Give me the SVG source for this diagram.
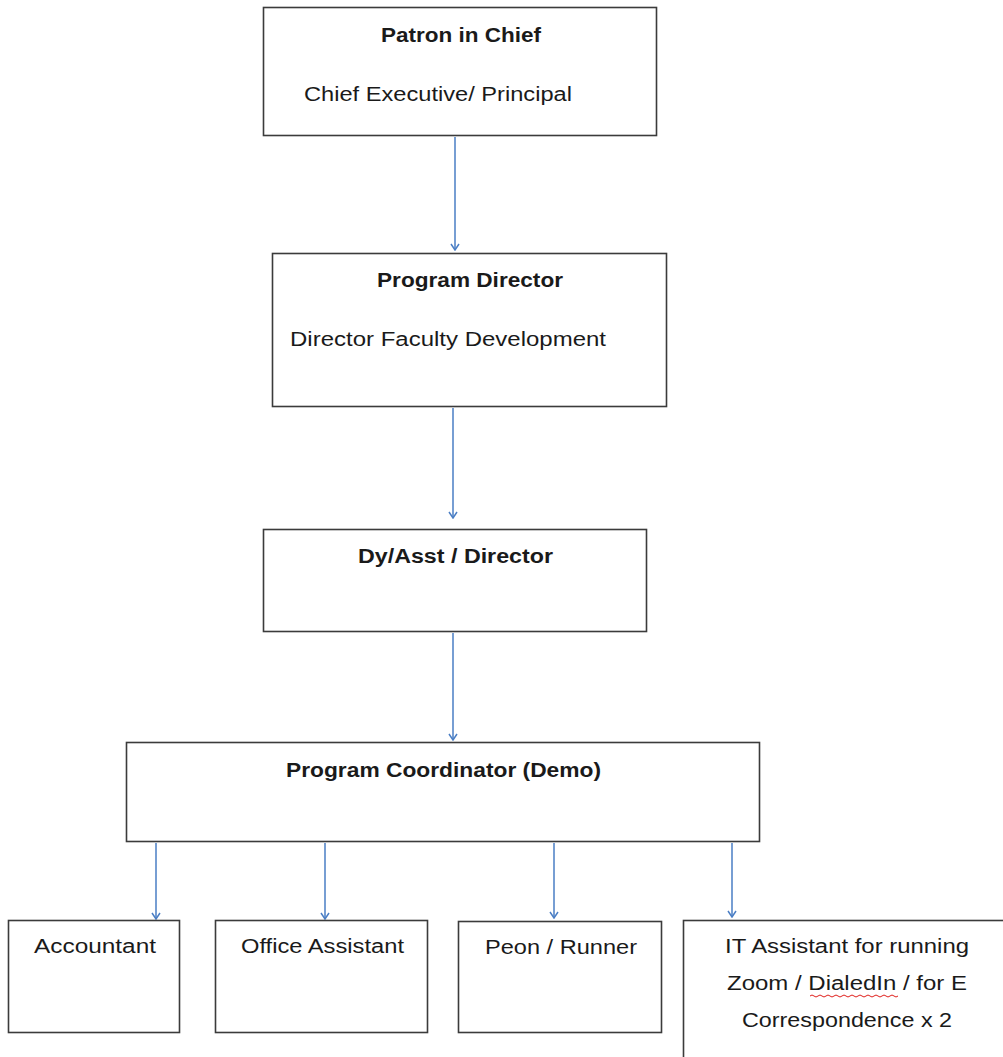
<svg xmlns="http://www.w3.org/2000/svg" width="1003" height="1057" viewBox="0 0 1003 1057">
<style>
.box{fill:#fff;stroke:#3b3b3b;stroke-width:1.6}
.t{font-family:"Liberation Sans",Arial,sans-serif;font-size:20px;fill:#1a1a1a}
.b{font-weight:bold}
.c{stroke:#4a7ec4;stroke-width:1.5;fill:none}
</style>
<defs>
<marker id="ah" viewBox="0 0 10 10" refX="9" refY="5" markerWidth="10" markerHeight="10" markerUnits="userSpaceOnUse" orient="auto">
<path d="M3,1 L9,5 L3,9" fill="none" stroke="#4a7ec4" stroke-width="1.5"/>
</marker>
</defs>
<rect width="1003" height="1057" fill="#fff"/>
<g id="connectors">
<line class="c" x1="455" y1="137" x2="455" y2="250" marker-end="url(#ah)"/>
<line class="c" x1="453" y1="408" x2="453" y2="518" marker-end="url(#ah)"/>
<line class="c" x1="453" y1="633" x2="453" y2="740" marker-end="url(#ah)"/>
<line class="c" x1="156" y1="843" x2="156" y2="919" marker-end="url(#ah)"/>
<line class="c" x1="325" y1="843" x2="325" y2="919" marker-end="url(#ah)"/>
<line class="c" x1="554" y1="843" x2="554" y2="918" marker-end="url(#ah)"/>
<line class="c" x1="732" y1="843" x2="732" y2="917" marker-end="url(#ah)"/>
</g>
<g id="patron">
<rect class="box" x="263.5" y="7.5" width="393" height="128"/>
<text class="t b" x="381" y="42" textLength="160" lengthAdjust="spacingAndGlyphs">Patron in Chief</text>
<text class="t" x="304" y="101" textLength="268" lengthAdjust="spacingAndGlyphs">Chief Executive/ Principal</text>
</g>
<g id="program-director">
<rect class="box" x="272.5" y="253.5" width="394" height="153"/>
<text class="t b" x="377" y="287" textLength="186" lengthAdjust="spacingAndGlyphs">Program Director</text>
<text class="t" x="290" y="346" textLength="316" lengthAdjust="spacingAndGlyphs">Director Faculty Development</text>
</g>
<g id="dy-asst-director">
<rect class="box" x="263.5" y="529.5" width="383" height="102"/>
<text class="t b" x="358" y="563" textLength="195" lengthAdjust="spacingAndGlyphs">Dy/Asst / Director</text>
</g>
<g id="program-coordinator">
<rect class="box" x="126.5" y="742.5" width="633" height="99"/>
<text class="t b" x="286" y="777" textLength="315" lengthAdjust="spacingAndGlyphs">Program Coordinator (Demo)</text>
</g>
<g id="accountant">
<rect class="box" x="8.5" y="920.5" width="171" height="112"/>
<text class="t" x="34" y="953" textLength="122" lengthAdjust="spacingAndGlyphs">Accountant</text>
</g>
<g id="office-assistant">
<rect class="box" x="215.5" y="920.5" width="212" height="112"/>
<text class="t" x="241" y="953" textLength="163" lengthAdjust="spacingAndGlyphs">Office Assistant</text>
</g>
<g id="peon-runner">
<rect class="box" x="458.5" y="921.5" width="203" height="111"/>
<text class="t" x="485" y="954" textLength="152" lengthAdjust="spacingAndGlyphs">Peon / Runner</text>
</g>
<g id="it-assistant">
<rect class="box" x="683.5" y="920.5" width="322" height="140"/>
<text class="t" x="725" y="953" textLength="244" lengthAdjust="spacingAndGlyphs">IT Assistant for running</text>
<text class="t" x="727" y="990" textLength="240" lengthAdjust="spacingAndGlyphs">Zoom / DialedIn / for E</text>
<text class="t" x="742" y="1027" textLength="210" lengthAdjust="spacingAndGlyphs">Correspondence x 2</text>
<path d="M810,996 q2,-2 4,0 t4,0 t4,0 t4,0 t4,0 t4,0 t4,0 t4,0 t4,0 t4,0 t4,0 t4,0 t4,0 t4,0 t4,0 t4,0 t4,0 t4,0 t4,0 t4,0 t4,0 t4,0" fill="none" stroke="#e0201c" stroke-width="1"/>
</g>
</svg>
